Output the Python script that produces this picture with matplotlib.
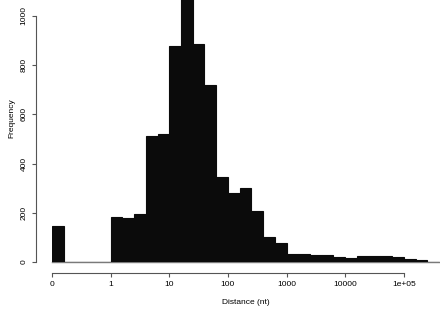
import matplotlib
matplotlib.use('Agg')
import matplotlib.pyplot as plt
import numpy as np

plt.rcParams['font.family'] = ['Liberation Sans', 'DejaVu Sans']

# histogram of log10 distances, bins of 0.2 decade (0 plotted one decade left of 1)
bin_start = -1.0
bin_width = 0.2
counts = [148, 0, 0, 0, 0,
          184, 177, 194, 510, 518,
          878, 1170, 884, 719, 346,
          281, 299, 207, 100, 79,
          34, 33, 28, 27, 20,
          15, 25, 24, 24, 19,
          12, 8, 0]
tick_pos = [-1, 0, 1, 2, 3, 4, 5]
tick_labels = ['0', '1', '10', '100', '1000', '10000', '1e+05']
y_ticks = [0, 200, 400, 600, 800, 1000]

W, H = 440, 311
fig = plt.figure(figsize=(W / 100, H / 100), dpi=100)
ax = fig.add_axes([52 / W, (H - 262) / H, (W - 52) / W, 262 / H])

lefts = bin_start + bin_width * np.arange(len(counts))
ax.bar(lefts, counts, width=bin_width, align='edge',
       color='#0b0b0b', edgecolor='#0b0b0b', linewidth=0.8, zorder=2)
# empty bins show up as a grey line on the baseline
ax.axhline(0, color='#7a7a7a', lw=1.0, zorder=1, clip_on=False)

ax.set_xlim(-1, 5.617)
ax.set_ylim(0, 1064)

for s in ['top', 'right']:
    ax.spines[s].set_visible(False)
ax.spines['left'].set_position(('outward', 11.5))
ax.spines['bottom'].set_position(('outward', 8.1))
ax.spines['left'].set_bounds(0, 1000)
ax.spines['bottom'].set_bounds(-1, 5)
for s in ['left', 'bottom']:
    ax.spines[s].set_color('#555555')
    ax.spines[s].set_linewidth(0.8)

ax.set_xticks(tick_pos)
ax.set_xticklabels(tick_labels)
ax.set_yticks(y_ticks)
ax.set_yticklabels([str(v) for v in y_ticks], rotation=90, va='center')
ax.tick_params(axis='both', length=3, width=0.8, color='#555555',
               labelsize=6, pad=2.5)
ax.tick_params(axis='y', pad=3)

fig.text(246 / W, 1 - 302 / H, 'Distance (nt)', ha='center', va='center',
         fontsize=6)
fig.text(12 / W, 1 - 118 / H, 'Frequency', ha='center', va='center',
         rotation=90, fontsize=6)

fig.savefig('out.png', dpi=100)
